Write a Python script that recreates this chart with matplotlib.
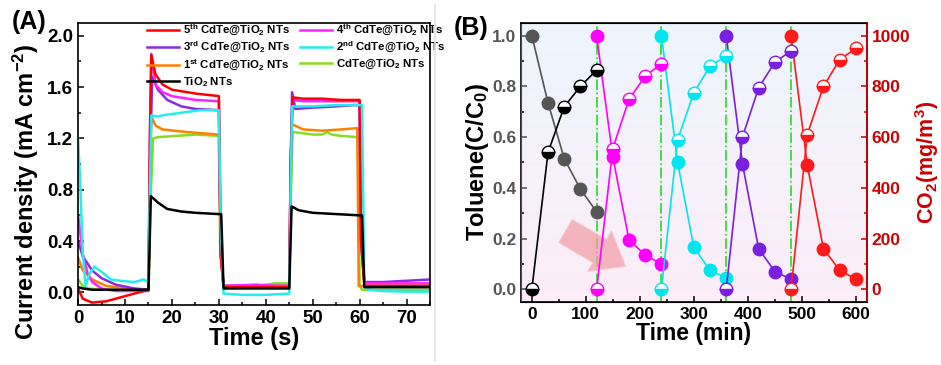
import numpy as np
import matplotlib
matplotlib.use('Agg')
import matplotlib.pyplot as plt
from matplotlib.lines import Line2D
from matplotlib.ticker import MultipleLocator

plt.rcParams['font.family'] = ['Liberation Sans', 'DejaVu Sans']
plt.rcParams['font.weight'] = 'bold'
plt.rcParams['mathtext.fontset'] = 'custom'
plt.rcParams['mathtext.rm'] = 'Liberation Sans:bold'
plt.rcParams['mathtext.bf'] = 'Liberation Sans:bold'
plt.rcParams['mathtext.it'] = 'Liberation Sans:bold'
plt.rcParams['mathtext.default'] = 'bf'

# (A) photocurrent, points
red_t = [0, 1, 3, 6, 10, 15, 15.3, 15.6, 16.5, 18, 20, 25, 30, 30.4, 31, 35, 40, 45, 45.3, 45.7, 48, 52, 56, 60, 60.3, 61, 65, 70, 75]
red_j = [0.03, -0.05, -0.08, -0.07, -0.03, 0.02, 1.2, 1.85, 1.7, 1.62, 1.58, 1.55, 1.53, 0.3, 0.04, 0.04, 0.04, 0.04, 1.0, 1.52, 1.51, 1.51, 1.5, 1.5, 0.4, 0.05, 0.05, 0.05, 0.05]
mag_t = [0, 1, 2, 3, 5, 8, 15, 15.3, 15.6, 16.5, 18, 20, 25, 30, 30.4, 31, 38, 42, 45, 45.3, 45.7, 48, 54, 60, 60.3, 61, 65, 70, 75]
mag_j = [0.6, 0.3, 0.15, 0.08, 0.03, 0.01, 0.01, 1.2, 1.86, 1.62, 1.56, 1.53, 1.5, 1.49, 0.3, 0.05, 0.06, 0.05, 0.05, 1.0, 1.5, 1.49, 1.49, 1.49, 0.4, 0.07, 0.07, 0.07, 0.07]
pur_t = [0, 1, 3, 5, 8, 12, 15, 15.3, 15.8, 17, 19, 22, 25, 30, 30.4, 31, 40, 45, 45.3, 45.6, 46.3, 50, 55, 59, 60, 60.3, 61, 65, 70, 75]
pur_j = [0.4, 0.28, 0.17, 0.11, 0.06, 0.03, 0.02, 1.0, 1.68, 1.58, 1.5, 1.45, 1.43, 1.42, 0.3, 0.05, 0.05, 0.05, 1.0, 1.56, 1.43, 1.44, 1.45, 1.46, 1.46, 0.4, 0.08, 0.08, 0.09, 0.1]
cyan_t = [0, 0.5, 1, 1.6, 2.5, 3.5, 5, 7, 9, 12, 14, 15, 15.3, 15.6, 17, 18, 22, 26, 30, 30.4, 31, 35, 40, 45, 45.3, 45.6, 50, 55, 60, 60.5, 61, 62, 65, 70, 75]
cyan_j = [1.2, 0.8, 0.3, 0.05, 0.15, 0.2, 0.16, 0.1, 0.09, 0.08, 0.1, 0.08, 0.8, 1.38, 1.37, 1.38, 1.4, 1.42, 1.42, 0.5, -0.01, -0.02, -0.02, -0.01, 0.8, 1.45, 1.45, 1.46, 1.46, 1.46, 0.05, 0.02, 0.01, 0.005, 0.005]
ora_t = [0, 1, 3, 6, 10, 15, 15.3, 15.6, 16.5, 18, 23, 30, 30.3, 31, 40, 45, 45.3, 45.6, 48, 52, 56, 59.5, 59.8, 65, 75]
ora_j = [0.27, 0.17, 0.1, 0.05, 0.03, 0.02, 0.8, 1.37, 1.3, 1.27, 1.25, 1.23, 0.3, 0.05, 0.05, 0.05, 0.8, 1.31, 1.27, 1.26, 1.27, 1.28, 0.05, 0.05, 0.05]
grn_t = [0, 1, 2, 5, 15, 15.4, 16, 17, 21, 25, 30, 30.4, 31, 38, 42, 45, 45.3, 45.7, 48, 50, 52, 53, 54, 56, 59.6, 60, 60.5, 65, 75]
grn_j = [0.1, 0.05, 0.03, 0.02, 0.02, 0.7, 1.2, 1.21, 1.22, 1.23, 1.22, 0.3, 0.04, 0.05, 0.07, 0.07, 0.7, 1.25, 1.24, 1.23, 1.23, 1.25, 1.23, 1.22, 1.21, 0.05, 0.02, 0.02, 0.02]
blk_t = [0, 1, 3, 15, 15.5, 17, 19, 22, 25, 30, 30.5, 31, 45, 45.5, 47, 50, 55, 60, 60.5, 61, 75]
blk_j = [0.04, 0.03, 0.02, 0.02, 0.75, 0.7, 0.65, 0.63, 0.62, 0.61, 0.61, 0.03, 0.03, 0.67, 0.64, 0.62, 0.61, 0.6, 0.6, 0.04, 0.04]

# (B) toluene degradation / CO2 cycles
cyc_colors = ['#555555', '#ff00ff', '#00e5ee', '#7a1fe0', '#ff1a1a']
co2_colors = ['black', '#ff00ff', '#00e5ee', '#7a1fe0', '#ff1a1a']
cyc_t = [[0, 30, 60, 90, 120], [120, 150, 180, 210, 240], [240, 270, 300, 330, 360],
         [360, 390, 420, 450, 480], [480, 510, 540, 570, 600]]
toluene = [[1.0, 0.735, 0.515, 0.395, 0.305], [1.0, 0.52, 0.195, 0.135, 0.10],
           [1.0, 0.50, 0.165, 0.075, 0.045], [1.0, 0.495, 0.16, 0.07, 0.04],
           [1.0, 0.49, 0.16, 0.075, 0.04]]
co2 = [[0, 540, 720, 800, 865], [0, 555, 750, 840, 890], [0, 590, 775, 880, 920],
       [0, 600, 795, 895, 940], [0, 610, 800, 905, 950]]
cycle_ends = [120, 240, 360, 480]

fig = plt.figure(figsize=(9.41, 3.65), dpi=100)

# ---------- panel A ----------
axA = fig.add_axes([0.083, 0.164, 0.374, 0.773])
curves = [
    (grn_t, grn_j, '#88dd22', 'CdTe@TiO$_2$ NTs'),
    (ora_t, ora_j, '#ff8000', '1$^{st}$ CdTe@TiO$_2$ NTs'),
    (pur_t, pur_j, '#8a2be2', '3$^{rd}$ CdTe@TiO$_2$ NTs'),
    (mag_t, mag_j, '#ff22ff', '4$^{th}$ CdTe@TiO$_2$ NTs'),
    (red_t, red_j, '#ff0000', '5$^{th}$ CdTe@TiO$_2$ NTs'),
    (cyan_t, cyan_j, '#22eeee', '2$^{nd}$ CdTe@TiO$_2$ NTs'),
    (blk_t, blk_j, 'black', 'TiO$_2$ NTs'),
]
lines = {}
for t, j, c, lab in curves:
    ln, = axA.plot(t, j, color=c, lw=1.8, label=lab)
    lines[lab] = ln

# legend is filled column by column
order = ['5$^{th}$ CdTe@TiO$_2$ NTs', '3$^{rd}$ CdTe@TiO$_2$ NTs',
         '1$^{st}$ CdTe@TiO$_2$ NTs', 'TiO$_2$ NTs',
         '4$^{th}$ CdTe@TiO$_2$ NTs', '2$^{nd}$ CdTe@TiO$_2$ NTs',
         'CdTe@TiO$_2$ NTs']
axA.legend([lines[k] for k in order], order, ncol=2, frameon=False, fontsize=8.2,
           loc='upper left', bbox_to_anchor=(0.195, 1.0), borderaxespad=0, borderpad=0,
           handlelength=2.8, handletextpad=0.4, columnspacing=0.8, labelspacing=0.2)

axA.set_xlim(0, 75)
axA.set_ylim(-0.1, 2.1)
axA.xaxis.set_major_locator(MultipleLocator(10))
axA.xaxis.set_minor_locator(MultipleLocator(5))
axA.yaxis.set_major_locator(MultipleLocator(0.4))
axA.yaxis.set_minor_locator(MultipleLocator(0.2))
axA.tick_params(direction='in', which='both', labelsize=13.5, width=1.1)
axA.tick_params(which='major', length=4)
axA.tick_params(which='minor', length=2.5)
for s in axA.spines.values():
    s.set_linewidth(1.2)
axA.set_xlabel('Time (s)', fontsize=17, fontweight='bold', labelpad=0)
axA.set_ylabel('Current density (mA cm$^{-2}$)', fontsize=17, fontweight='bold')
axA.yaxis.set_label_coords(-0.105, 0.40)

# ---------- panel B ----------
axB = fig.add_axes([0.5537, 0.1726, 0.3673, 0.7644])
grad = np.linspace(0, 1, 256).reshape(-1, 1)
top = np.array([0.93, 0.96, 0.99])
bot = np.array([0.99, 0.93, 0.97])
img = top + (bot - top) * grad[:, :, None]
axB.imshow(img, extent=[-20, 620, -0.05, 1.05], aspect='auto', origin='upper', zorder=0)

for x in cycle_ends:
    axB.axvline(x, color='#22dd22', lw=1.2, ls='-.', zorder=1)

axB2 = axB.twinx()
for i in range(5):
    axB.plot(cyc_t[i], toluene[i], '-o', color=cyc_colors[i], lw=1.2, ms=9,
             mec=cyc_colors[i], mfc=cyc_colors[i], zorder=3)
    axB2.plot(cyc_t[i], co2[i], '-o', color=co2_colors[i], lw=1.2, ms=9,
              mec=co2_colors[i], mfc=co2_colors[i], fillstyle='bottom',
              markerfacecoloralt='white', zorder=3)

axB.annotate('', xy=(178, 0.085), xytext=(58, 0.235),
             arrowprops=dict(arrowstyle='simple,head_width=1.4,head_length=0.9,tail_width=0.8',
                             fc='#f2a0a8', ec='#f6c6cc', alpha=0.75, mutation_scale=24),
             zorder=2)

axB.set_xlim(-20, 620)
axB.set_ylim(-0.05, 1.05)
axB2.set_ylim(-50, 1050)
axB.xaxis.set_major_locator(MultipleLocator(100))
axB.xaxis.set_minor_locator(MultipleLocator(50))
axB.yaxis.set_major_locator(MultipleLocator(0.2))
axB.yaxis.set_minor_locator(MultipleLocator(0.1))
axB2.yaxis.set_major_locator(MultipleLocator(200))
axB2.yaxis.set_minor_locator(MultipleLocator(100))
axB.tick_params(direction='in', which='both', labelsize=12.5, width=1.1)
axB.tick_params(axis='y', colors='#4d4d4d', labelcolor='#555555')
axB.tick_params(which='major', length=4)
axB.tick_params(which='minor', length=2.5)
axB2.tick_params(direction='in', which='both', labelsize=12.5, width=1.1,
                 colors='#cc0000', labelcolor='#cc0000')
axB2.tick_params(which='major', length=4)
axB2.tick_params(which='minor', length=2.5)
for s in axB.spines.values():
    s.set_linewidth(1.2)
axB2.spines['right'].set_color('#cc0000')
axB2.spines['right'].set_linewidth(1.2)
axB2.spines['left'].set_color('#4d4d4d')
axB.set_xlabel('Time (min)', fontsize=16.5, fontweight='bold', labelpad=0)
axB.set_ylabel('Toluene(C/C$_0$)', fontsize=17, fontweight='bold', labelpad=1)
axB2.set_ylabel('CO$_2$(mg/m$^3$)', fontsize=15.5, fontweight='bold', color='#cc0000', labelpad=2)

fig.text(0.013, 0.94, '(A)', fontsize=18, fontweight='bold', va='center')
fig.text(0.482, 0.923, '(B)', fontsize=18, fontweight='bold', va='center')
fig.add_artist(Line2D([0.462, 0.462], [0.012, 0.985], color='#e2e2e2', lw=1.2))

fig.savefig('out.png', dpi=100)
